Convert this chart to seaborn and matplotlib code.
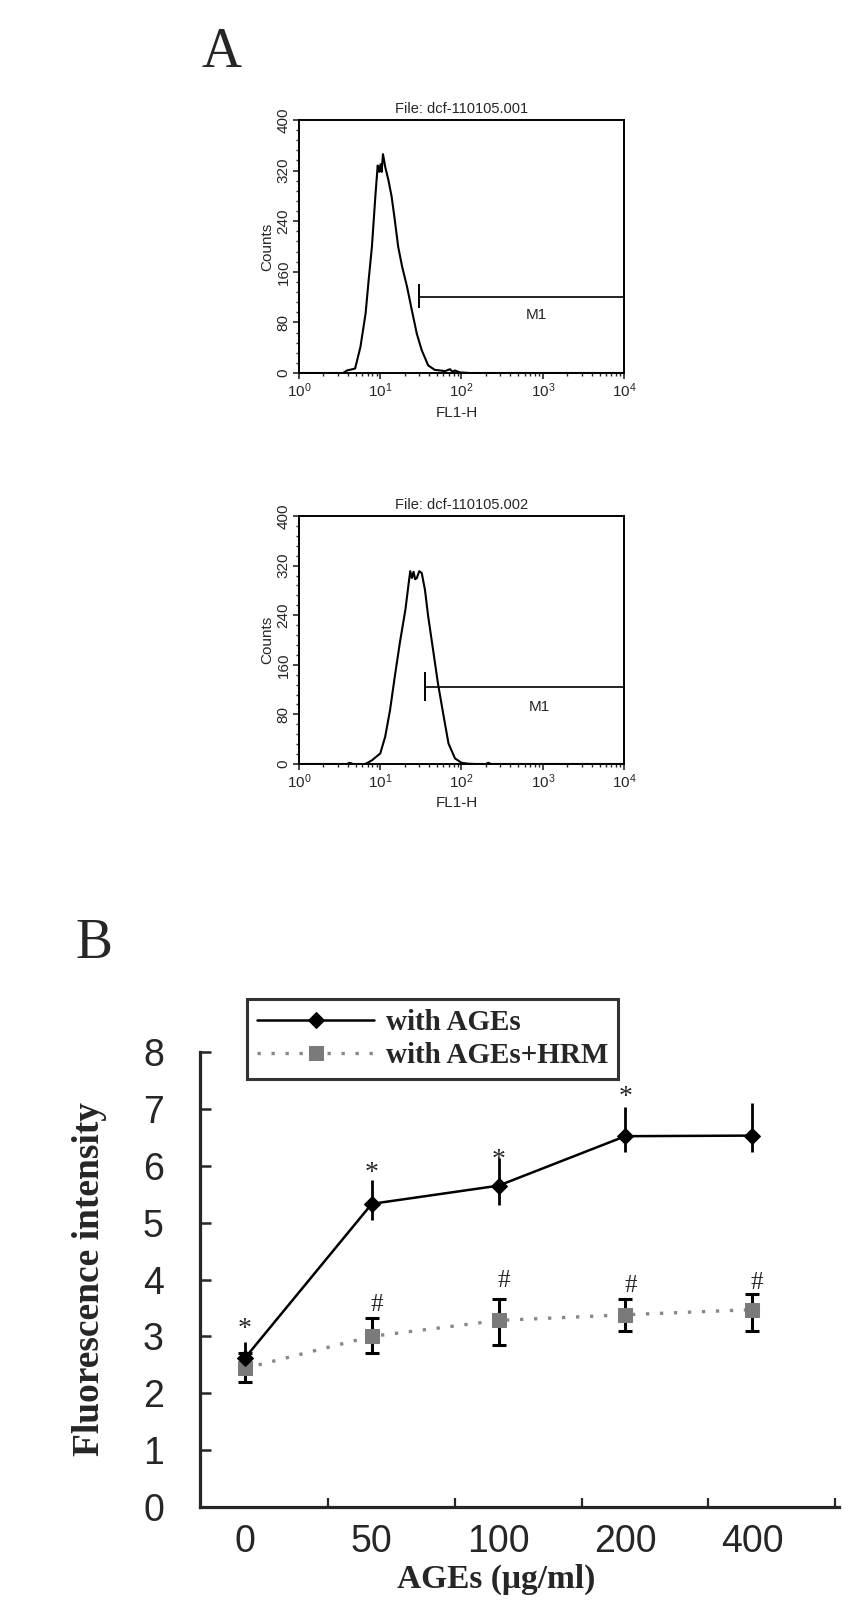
import numpy as np
import pandas as pd
import matplotlib
matplotlib.use("Agg")
import matplotlib.pyplot as plt
import matplotlib.ticker as mticker
from matplotlib import font_manager
import seaborn as sns

# ---- panel A data ----
hist1_fl1 = [1.0, 3.5, 3.9, 4.9, 5.7, 6.6, 7.2, 7.9, 8.7, 9.3, 9.7, 10.1, 10.4, 10.8, 11.2,
             11.5, 12.6, 13.8, 15.1, 16.6, 18.6, 21.4, 24.5, 28.2, 32.4, 38.9, 46.8, 63.0,
             72.0, 78.0, 83.0, 95.0, 110.0, 126.0, 10000.0]
hist1_counts = [0, 0, 4, 7, 41, 94, 147, 200, 279, 328, 318, 330, 318, 346, 335,
                326, 305, 279, 242, 200, 168, 136, 99, 62, 36, 12, 5, 3,
                6, 2, 4, 1, 0.5, 0, 0]

hist2_fl1 = [1.0, 3.9, 4.2, 4.6, 6.5, 7.0, 7.9, 10.0, 11.5, 13.2, 15.1, 17.4, 20.4, 22.4,
             23.4, 24.5, 25.7, 26.9, 28.2, 30.2, 32.4, 35.5, 38.9, 44.7, 51.3, 60.3, 69.2,
             83.2, 100.0, 120.0, 150.0, 200.0, 214.0, 230.0, 10000.0]
hist2_counts = [0, 0, 2, 0, 0, 2, 6, 17, 44, 87, 141, 195, 249, 292,
                311, 300, 310, 298, 300, 311, 308, 281, 238, 184, 130, 77, 33,
                9, 2, 0.5, 0, 0, 2, 0, 0]

hist_titles = ["File: dcf-110105.001", "File: dcf-110105.002"]
gate_start = [30.0, 35.5]
gate_level = [120, 124]
gate_bar = [(102, 141), (101, 149)]
gate_label_x = [830.0, 910.0]
gate_label_y = [91, 92]

# ---- panel B data ----
doses = ["0", "50", "100", "200", "400"]
ages_mean = [2.62, 5.33, 5.65, 6.52, 6.53]
ages_low = [2.40, 5.05, 5.31, 6.25, 6.25]
ages_high = [2.90, 5.75, 6.13, 7.03, 7.10]
hrm_mean = [2.44, 3.00, 3.28, 3.38, 3.47]
hrm_low = [2.19, 2.70, 2.85, 3.10, 3.10]
hrm_high = [2.70, 3.33, 3.66, 3.66, 3.75]
star_idx = [0, 1, 2, 3]
star_y = [3.12, 5.87, 6.10, 7.20]
hash_idx = [1, 2, 3, 4]
hash_y = [3.56, 3.97, 3.88, 3.94]

sns.set_style("ticks")
names = {f.name for f in font_manager.fontManager.ttflist}
narrow = "Liberation Sans Narrow" if "Liberation Sans Narrow" in names else "Liberation Sans"
sans = "Liberation Sans"
serif = "Liberation Serif"
plt.rcParams["font.family"] = [sans, "DejaVu Sans"]
plt.rcParams["mathtext.fontset"] = "custom"
plt.rcParams["mathtext.rm"] = sans
plt.rcParams["mathtext.it"] = sans

fig = plt.figure(figsize=(8.62, 16.18), dpi=100)
W, H = 862.0, 1618.0

def fig_box(x0, y0, x1, y1):
    return [x0 / W, 1 - y1 / H, (x1 - x0) / W, (y1 - y0) / H]

hist_boxes = [fig_box(299, 120, 624, 373), fig_box(299, 516, 624, 764)]
hists = [(hist1_fl1, hist1_counts), (hist2_fl1, hist2_counts)]

for i in range(2):
    ax = fig.add_axes(hist_boxes[i])
    df = pd.DataFrame({"FL1": hists[i][0], "Counts": hists[i][1]})
    sns.lineplot(data=df, x="FL1", y="Counts", ax=ax, color="black", lw=1.5,
                 estimator=None, sort=False)
    ax.set_xscale("log")
    ax.set_xlim(1, 10000)
    ax.set_ylim(0, 400)
    ax.set_yticks([0, 80, 160, 240, 320, 400])
    ax.yaxis.set_minor_locator(mticker.MultipleLocator(16))
    ax.set_xticks([1, 10, 100, 1000, 10000])
    ax.set_xticklabels([r"$10^0$", r"$10^1$", r"$10^2$", r"$10^3$", r"$10^4$"])
    ax.xaxis.set_minor_locator(mticker.LogLocator(base=10, subs=np.arange(2, 10)))
    ax.xaxis.set_minor_formatter(mticker.NullFormatter())
    ax.tick_params(axis="both", which="major", direction="out", length=4, width=1.2,
                   labelsize=11, pad=2)
    ax.tick_params(axis="both", which="minor", direction="out", length=2.5, width=1.0)
    for lab in ax.get_yticklabels():
        lab.set_rotation(90)
        lab.set_va("center")
    for sp in ax.spines.values():
        sp.set_linewidth(1.4)
        sp.set_color("black")
    ax.set_title(hist_titles[i], fontsize=10.5, pad=5)
    ax.set_ylabel("Counts", fontsize=11, labelpad=2)
    ax.set_xlabel("FL1-H", fontsize=11, labelpad=2)
    ax.xaxis.set_label_coords(0.485, -0.13)
    ax.hlines(gate_level[i], gate_start[i], 10000, color="black", lw=1.2)
    ax.vlines(gate_start[i], gate_bar[i][0], gate_bar[i][1], color="black", lw=1.4)
    ax.text(gate_label_x[i], gate_label_y[i], "M1", fontsize=11, ha="center", va="center")

# ---- panel B ----
axb = fig.add_axes(fig_box(200, 1052, 839, 1507))
xpos = np.arange(len(doses))
dfb = pd.DataFrame({"x": np.concatenate([xpos, xpos]),
                    "y": ages_mean + hrm_mean,
                    "group": ["with AGEs"] * 5 + ["with AGEs+HRM"] * 5})

axb.errorbar(xpos, hrm_mean,
             yerr=[np.subtract(hrm_mean, hrm_low), np.subtract(hrm_high, hrm_mean)],
             fmt="none", ecolor="black", elinewidth=2.2, capsize=5, capthick=2.2, zorder=2)
axb.errorbar(xpos, ages_mean,
             yerr=[np.subtract(ages_mean, ages_low), np.subtract(ages_high, ages_mean)],
             fmt="none", ecolor="black", elinewidth=2.0, capsize=0, zorder=2)
sns.lineplot(data=dfb[dfb.group == "with AGEs+HRM"], x="x", y="y", ax=axb,
             color="#888888", lw=2.4, linestyle=(0, (1, 3.2)), marker="s", markersize=10,
             markerfacecolor="#7a7a7a", markeredgecolor="#7a7a7a", label="with AGEs+HRM",
             zorder=3)
sns.lineplot(data=dfb[dfb.group == "with AGEs"], x="x", y="y", ax=axb,
             color="black", lw=1.8, marker="D", markersize=8,
             markerfacecolor="black", markeredgecolor="black", label="with AGEs", zorder=4)

for k, yv in zip(star_idx, star_y):
    axb.text(xpos[k], yv, "*", fontsize=20, family=serif, ha="center", va="center")
for k, yv in zip(hash_idx, hash_y):
    axb.text(xpos[k] + 0.04, yv, "#", fontsize=18, family=serif, ha="center", va="center")

axb.set_xlim(-0.355, 4.686)
axb.set_ylim(0, 8)
axb.set_xticks(xpos)
axb.set_xticklabels(doses)
axb.set_xticks(xpos + 0.655, minor=True)
axb.set_yticks(range(9))
axb.tick_params(axis="x", which="major", length=0, labelsize=27, pad=12)
axb.tick_params(axis="x", which="minor", direction="in", length=6.5, width=1.6)
axb.tick_params(axis="y", which="major", direction="in", length=8, width=1.8,
                labelsize=27, pad=26)
for lab in axb.get_xticklabels() + axb.get_yticklabels():
    lab.set_family(narrow)
    lab.set_fontstretch("condensed")
sns.despine(ax=axb)
for sp in ["left", "bottom"]:
    axb.spines[sp].set_linewidth(2.3)
axb.set_xlabel("AGEs (μg/ml)", fontsize=24, family=serif, fontweight="bold")
axb.xaxis.set_label_coords(0.463, -0.125)
axb.set_ylabel("Fluorescence intensity", fontsize=27, family=serif, fontweight="bold")
axb.yaxis.set_label_coords(-0.145, 0.5)

handles, labels = axb.get_legend_handles_labels()
order = [labels.index("with AGEs"), labels.index("with AGEs+HRM")]
leg = axb.legend([handles[j] for j in order], [labels[j] for j in order],
                 loc="upper left", bbox_to_anchor=((247 - 200) / 639, (1507 - 999) / 455),
                 borderaxespad=0, frameon=True, fancybox=False, handlelength=4.0,
                 handletextpad=0.4, borderpad=0.35, labelspacing=0.2,
                 prop={"family": serif, "weight": "bold", "size": 21})
leg.get_frame().set_edgecolor("black")
leg.get_frame().set_linewidth(2.2)

fig.text(222 / W, 1 - 67 / H, "A", fontsize=40, family=serif, ha="center", va="baseline")
fig.text(75 / W, 1 - 958 / H, "B", fontsize=40, family=serif, ha="left", va="baseline")

fig.savefig("out.png", dpi=100)
